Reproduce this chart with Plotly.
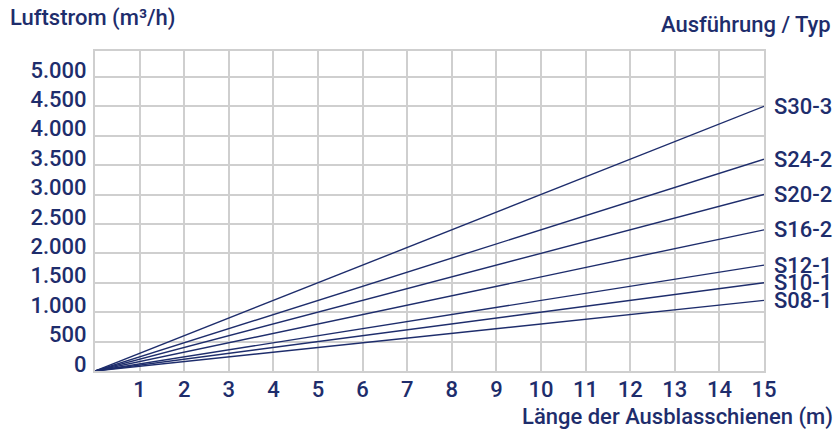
import plotly.graph_objects as go

types = ["S30-3", "S24-2", "S20-2", "S16-2", "S12-1", "S10-1", "S08-1"]
flow_at_15m = [4500, 3600, 3000, 2400, 1800, 1500, 1200]
length_points = [0, 15]
x_ticks = list(range(1, 16))
y_ticks = list(range(0, 5001, 500))
y_tick_labels = ["0", "500", "1.000", "1.500", "2.000", "2.500", "3.000", "3.500", "4.000", "4.500", "5.000"]

NAVY = "#1e2d6c"
GRID = "#cfcfcf"
FONT = "Roboto, Liberation Sans, Arial, sans-serif"
FS = 22
W = 500

def f(size=FS):
    return dict(family=FONT, size=size, color=NAVY, weight=W)

fig = go.Figure()
for name, v in zip(types, flow_at_15m):
    fig.add_trace(go.Scatter(x=length_points, y=[0, v], mode="lines",
                             line=dict(color=NAVY, width=1.4), name=name,
                             showlegend=False, cliponaxis=False, hoverinfo="skip"))
    fig.add_annotation(x=15, y=v, xref="x", yref="y", text=name, showarrow=False,
                       xanchor="left", yanchor="middle", xshift=8, font=f())

fig.add_annotation(x=-0.13, y=1.103, xref="paper", yref="paper", text="Luftstrom (m³/h)",
                   showarrow=False, xanchor="left", yanchor="middle", font=f())
fig.add_annotation(x=1.103, y=1.083, xref="paper", yref="paper", text="Ausführung / Typ",
                   showarrow=False, xanchor="right", yanchor="middle", font=f())
fig.add_annotation(x=1.106, y=-0.145, xref="paper", yref="paper", text="Länge der Ausblasschienen (m)",
                   showarrow=False, xanchor="right", yanchor="middle", font=f())

fig.update_xaxes(range=[0, 15], tickvals=x_ticks, ticks="", showgrid=True, gridcolor=GRID,
                 gridwidth=2, showline=True, linecolor=GRID, linewidth=2, mirror=True,
                 zeroline=False, ticklabelstandoff=-2, tickfont=f())
fig.update_yaxes(range=[0, 5440], tickvals=y_ticks, ticktext=y_tick_labels, ticks="",
                 showgrid=True, gridcolor=GRID, gridwidth=2, showline=True, linecolor=GRID,
                 linewidth=2, mirror=True, zeroline=False, ticklabelshift=-7, ticklabelstandoff=2,
                 tickfont=f())

fig.update_layout(width=837, height=430, margin=dict(l=95, r=73, t=51, b=59),
                  plot_bgcolor="white", paper_bgcolor="white")
fig.write_html("out.html", config={"displayModeBar": False},
               post_script="document.body.style.margin='0';document.body.style.overflow='hidden';")
